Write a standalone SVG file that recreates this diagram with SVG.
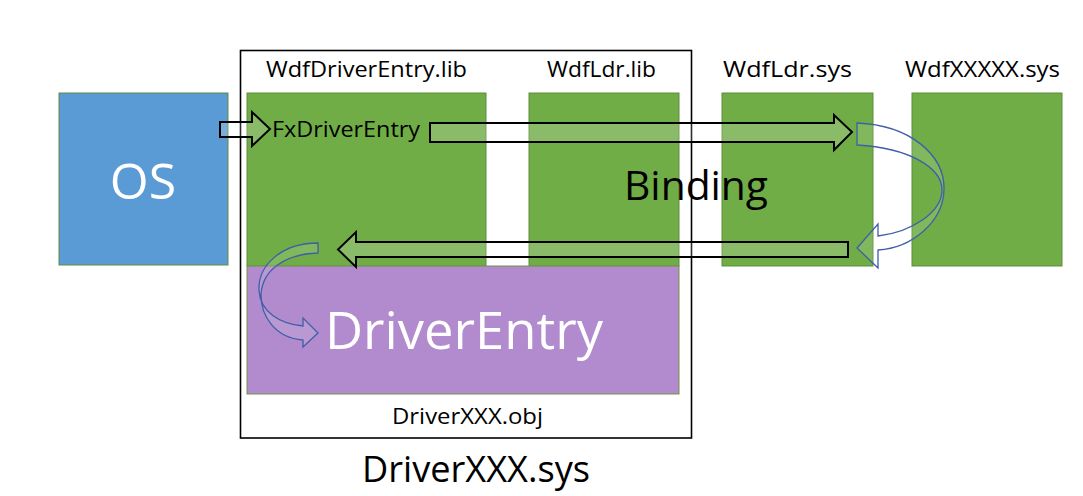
<svg xmlns="http://www.w3.org/2000/svg" width="1083" height="496" viewBox="0 0 1083 496">
<style>
.lbl{font-family:"Open Sans","Noto Sans","Liberation Sans",sans-serif;fill:#000;text-anchor:middle}
.box{stroke:#5E8C3C;stroke-width:1}
.green{fill:#70AD47}
.blk{fill:#FFFFFF;fill-opacity:0.18;stroke:#000;stroke-width:2;stroke-linejoin:miter}
.curv{fill:#FFFFFF;fill-opacity:0.12;stroke:#3F5FA8;stroke-width:1.3}
</style>
<rect width="1083" height="496" fill="#FFFFFF"/>
<g id="frame">
<rect x="240.5" y="50.5" width="451" height="387.5" fill="none" stroke="#000" stroke-width="1.6"/>
</g>
<g id="os">
<rect class="box" x="59" y="93" width="169" height="172" fill="#5B9BD5" stroke="#6E9448"/>
<text x="143" y="199" class="lbl" style="fill:#fff;font-size:50px">OS</text>
</g>
<g id="wdfdriverentry-lib">
<rect class="box green" x="247" y="93" width="239" height="173"/>
<text x="366.5" y="77" class="lbl" font-size="22.5" textLength="201" lengthAdjust="spacingAndGlyphs">WdfDriverEntry.lib</text>
</g>
<g id="wdfldr-lib">
<rect class="box green" x="529" y="93" width="150" height="173"/>
<text x="601.5" y="77" class="lbl" font-size="22.5" textLength="109" lengthAdjust="spacingAndGlyphs">WdfLdr.lib</text>
</g>
<g id="wdfldr-sys">
<rect class="box green" x="722" y="93" width="151" height="173"/>
<text x="787.5" y="77" class="lbl" font-size="22.5" textLength="129" lengthAdjust="spacingAndGlyphs">WdfLdr.sys</text>
</g>
<g id="wdfxxxxx-sys">
<rect class="box green" x="912" y="93" width="150" height="173"/>
<text x="982.5" y="77" class="lbl" font-size="22.5" textLength="155" lengthAdjust="spacingAndGlyphs">WdfXXXXX.sys</text>
</g>
<g id="driverentry">
<rect x="247" y="266" width="432" height="128" fill="#B18BCD" stroke="#6E9448" stroke-width="1"/>
<text x="464" y="349" class="lbl" style="fill:#fff;font-size:51px" textLength="278" lengthAdjust="spacingAndGlyphs">DriverEntry</text>
</g>
<g id="texts">
<text x="467.5" y="424" class="lbl" font-size="22.5" textLength="151" lengthAdjust="spacingAndGlyphs">DriverXXX.obj</text>
<text x="476" y="482" class="lbl" font-size="37" textLength="228" lengthAdjust="spacingAndGlyphs">DriverXXX.sys</text>
<text x="696" y="200" class="lbl" font-size="40" textLength="144" lengthAdjust="spacingAndGlyphs">Binding</text>
</g>
<g id="connectors">
<path class="blk" d="M220,122 L252,122 L252,112 L270,129 L252,146 L252,137 L220,137 Z"/>
<path class="blk" d="M430,123 L834,123 L834,115 L852,132 L834,150 L834,142 L430,142 Z"/>
<path class="blk" d="M848,242 L356,242 L356,232 L338,249.5 L356,267 L356,257 L848,257 Z"/>
<path class="curv" d="M857,123 C910,125 945,155 944,190 C943,222 912,248 878,250 L878,268 L857,248 L878,224 L878,236 C912,232 942,212 942,190 C942,168 910,148 857,145 Z"/>
<path class="curv" d="M318,243 C282,243 258,265 259,290 C260,312 280,324 303,326 L303,318 L318,333 L303,347 L303,340 C275,338 261,316 261,295 C262,270 285,254 318,253 Z"/>
</g>
<g id="fx">
<text x="346" y="137" class="lbl" font-size="22.5" textLength="148" lengthAdjust="spacingAndGlyphs">FxDriverEntry</text>
</g>
</svg>
